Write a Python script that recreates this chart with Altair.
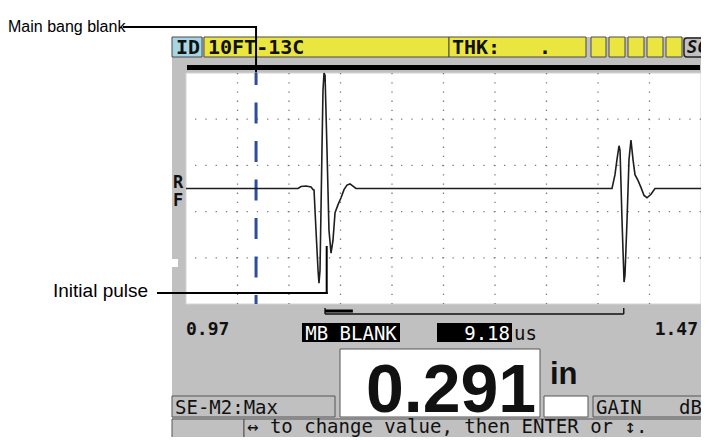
import altair as alt
import pandas as pd

# ---------------- data ----------------
# A-scan waveform: x in inches (screen range 0.97 .. 1.47), amplitude in % of half screen
wave_x = [0.970, 1.0787, 1.0817, 1.0865, 1.0914, 1.0933, 1.0943, 1.0962, 1.0982, 1.0991,
          1.1001, 1.1020, 1.1030, 1.1040, 1.1050, 1.1069, 1.1088, 1.1108, 1.1127, 1.1147,
          1.1176, 1.1205, 1.1234, 1.1263, 1.1292, 1.1321, 1.1350,
          1.3836, 1.3865, 1.3884, 1.3904, 1.3914, 1.3933, 1.3953, 1.3962, 1.3982, 1.4001,
          1.4020, 1.4040, 1.4059, 1.4088, 1.4117, 1.4147, 1.4176, 1.4215, 1.4253, 1.470]
wave_amp = [0, 0, 1.7, 2.2, 1.3, -0.9, -1.3, -36, -71, -82,
            -71, 33, 85, 100, 98, 33, -36, -56, -45, -21,
            -14, -8, -1, 3, 4, 2, 0,
            0, 12, 25, 37, 33, -27, -81, -75, -27, 25,
            42, 25, 12, 7, 1, -6, -8, -5, 0, 0]

x_range = [0.97, 1.47]
grid_x = [1.02, 1.07, 1.12, 1.17, 1.22, 1.27, 1.32, 1.37, 1.42]
grid_amp = [-60, -20, 20, 60]
mb_blank_x = [1.038]
pulse_pointer_x = [1.1066]
gate_x = [1.105]
gate_x2 = [1.395]
gate_mark_x2 = [1.132]

range_labels = ["0.97", "1.47"]
id_label = "10FT-13C"
thk_label = "THK:"
mb_label = "MB BLANK"
mb_value = "9.18"
mb_unit = "us"
thickness = "0.291"
thickness_unit = "in"
mode_label = "SE-M2:Max"
gain_labels = ["GAIN", "dB"]
help_text = "\u2194 to change value, then ENTER or \u2195."
annotations = ["Main bang blank", "Initial pulse"]

# ---------------- layout ----------------
W, H = 515, 231
MONO = "DejaVu Sans Mono"
SANS = "Liberation Sans"
PANEL = "#c0c0c0"
YELLOW = "#ebe63f"
CYAN = "#a6d6e4"
EDGE = "#4a4a4a"

xscale = alt.Scale(domain=x_range, nice=False, zero=False)
yscale = alt.Scale(domain=[-100, 100], nice=False, zero=False)


def px(v):
    return (v - x_range[0]) / (x_range[1] - x_range[0]) * W


one = pd.DataFrame({"k": [0]})


def box(x1, x2, y1, y2, fill, stroke=None, sw=1, **kw):
    props = dict(fill=fill, **kw)
    if stroke:
        props.update(stroke=stroke, strokeWidth=sw)
    return alt.Chart(one).mark_rect(**props).encode(
        x=alt.value(x1), x2=alt.value(x2), y=alt.value(y1), y2=alt.value(y2))


def label(txt, x, y, size, color="#111", weight="normal", align="left",
          font=MONO, baseline="alphabetic", **kw):
    return alt.Chart(one).mark_text(text=txt, fontSize=size, color=color, fontWeight=weight,
                                    align=align, font=font, baseline=baseline, **kw).encode(
        x=alt.value(x), y=alt.value(y))


def hline(x1, x2, y, color="#000", sw=1):
    return alt.Chart(one).mark_rule(color=color, strokeWidth=sw).encode(
        x=alt.value(x1), x2=alt.value(x2), y=alt.value(y))


def vline(x, y1, y2, color="#000", sw=1):
    return alt.Chart(one).mark_rule(color=color, strokeWidth=sw).encode(
        x=alt.value(x), y=alt.value(y1), y2=alt.value(y2))


def X(f):
    return alt.X(f, type="quantitative", scale=xscale, axis=None)


def Y(f):
    return alt.Y(f, type="quantitative", scale=yscale, axis=None)


layers = []
# instrument panel
layers.append(box(-14, 530, -36, 372, PANEL))
# top status bar
layers.append(box(-14, 16, -36, -16, CYAN, EDGE))
layers.append(box(18, 263, -36, -16, YELLOW, EDGE))
layers.append(box(263, 400, -36, -16, YELLOW, EDGE))
for a, b in [(405, 420), (423, 439), (442, 458), (461, 477), (480, 496)]:
    layers.append(box(a, b, -36, -16, YELLOW, EDGE))
layers.append(box(498, 530, -35, -16, PANEL, "#222", 1.5, cornerRadius=3))
layers.append(label("ID", -10, -19, 20, weight="bold"))
layers.append(label(id_label, 22, -19, 20, weight="bold"))
layers.append(label(thk_label, 266, -19, 20, weight="bold"))
layers.append(label(".", 353, -19, 20, weight="bold"))
layers.append(label("SC", 501, -20, 17, weight="bold", fontStyle="italic"))
# black bar above the A-scan
layers.append(box(1, 514, -8, -3, "#000"))
layers.append(vline(px(mb_blank_x[0]), -4, 0, "#000", 2))
# A-scan area
layers.append(box(0, W, 0, H, "#ffffff", "#d4d4d4"))
layers.append(label("R", -13, 115, 17, weight="bold"))
layers.append(label("F", -13, 133, 17, weight="bold"))
layers.append(box(-14, -8, 186, 194, "#ffffff"))

# grid
layers.append(alt.Chart(pd.DataFrame({"gx": grid_x})).mark_rule(
    color="#7a7a7a", strokeWidth=1.3, strokeDash=[1.3, 7.9]).encode(x=X("gx")))
layers.append(alt.Chart(pd.DataFrame({"gy": grid_amp})).mark_rule(
    color="#7a7a7a", strokeWidth=1.3, strokeDash=[1.3, 9]).encode(y=Y("gy")))

# main bang blank marker
layers.append(alt.Chart(pd.DataFrame({"x": mb_blank_x})).mark_rule(
    color="#2c4c9c", strokeWidth=3, strokeDash=[21, 17.5], strokeDashOffset=9).encode(
    x=X("x"), y=alt.value(0), y2=alt.value(H)))

# waveform
wave = pd.DataFrame({"x": wave_x, "amp": wave_amp})
layers.append(alt.Chart(wave).mark_line(color="#1e1e1e", strokeWidth=1.6).encode(
    x=X("x"), y=Y("amp")))

# measurement gate bracket
gate = pd.DataFrame({"x": gate_x, "x2": gate_x2})
layers.append(alt.Chart(gate).mark_rule(color="#111", strokeWidth=1.4).encode(
    x=X("x"), x2="x2:Q", y=alt.value(241)))
layers.append(alt.Chart(pd.DataFrame({"x": gate_x + gate_x2})).mark_rule(
    color="#111", strokeWidth=1.4).encode(x=X("x"), y=alt.value(235), y2=alt.value(241)))
layers.append(alt.Chart(pd.DataFrame({"x": gate_x, "x2": gate_mark_x2})).mark_rule(
    color="#000", strokeWidth=3).encode(x=X("x"), x2="x2:Q", y=alt.value(238)))

# range labels and MB blank readout
layers.append(label(range_labels[0], 0, 262, 18, weight="bold"))
layers.append(label(range_labels[1], 512, 262, 18, weight="bold", align="right"))
layers.append(box(116, 214, 250, 269, "#000"))
layers.append(label(mb_label, 165, 267, 19, color="#ffffff", align="center"))
layers.append(box(251, 326, 250, 269, "#000"))
layers.append(label(mb_value, 324, 267, 19, color="#ffffff", align="right"))
layers.append(label(mb_unit, 328, 267, 19))

# thickness readout
layers.append(box(154, 354, 276, 344, "#ffffff", "#555"))
layers.append(label(thickness, 265, 339, 68, weight="bold", align="center", font=SANS))
layers.append(label(thickness_unit, 364, 311, 31, weight="bold", font=SANS))
layers.append(box(358, 402, 323, 344, "#ffffff", "#555"))
layers.append(box(-14, 149, 323, 344, PANEL, "#555"))
layers.append(label(mode_label, -11, 341, 19))
layers.append(box(407, 530, 323, 344, PANEL, "#555"))
layers.append(label(gain_labels[0], 410, 341, 19))
layers.append(label(gain_labels[1], 493, 341, 19))

# help line
layers.append(box(-14, 58, 346, 372, PANEL, "#555"))
layers.append(box(58, 530, 346, 372, PANEL, "#555"))
layers.append(label(help_text, 61, 360, 19))

# callouts
mbx = px(mb_blank_x[0])
layers.append(label(annotations[0], -178, -46, 16, color="#000", font=SANS, baseline="middle"))
layers.append(hline(-63, mbx, -46, "#000", 2))
layers.append(vline(mbx, -47, -8, "#000", 2))
layers.append(label(annotations[1], -133, 224, 19, color="#000", font=SANS))
layers.append(hline(-29, px(pulse_pointer_x[0]) + 1, 220, "#000", 2))
layers.append(alt.Chart(pd.DataFrame({"x": pulse_pointer_x})).mark_rule(
    color="#000", strokeWidth=2).encode(x=X("x"), y=alt.value(173), y2=alt.value(221)))

chart = alt.layer(*layers).properties(
    width=W, height=H,
    padding={"left": 178, "top": 65, "right": 0, "bottom": 133},
    autosize=alt.AutoSizeParams(type="none"),
    background="#ffffff",
).configure_view(stroke=None)

chart.save("out.html", embed_options={"renderer": "svg", "actions": False})
